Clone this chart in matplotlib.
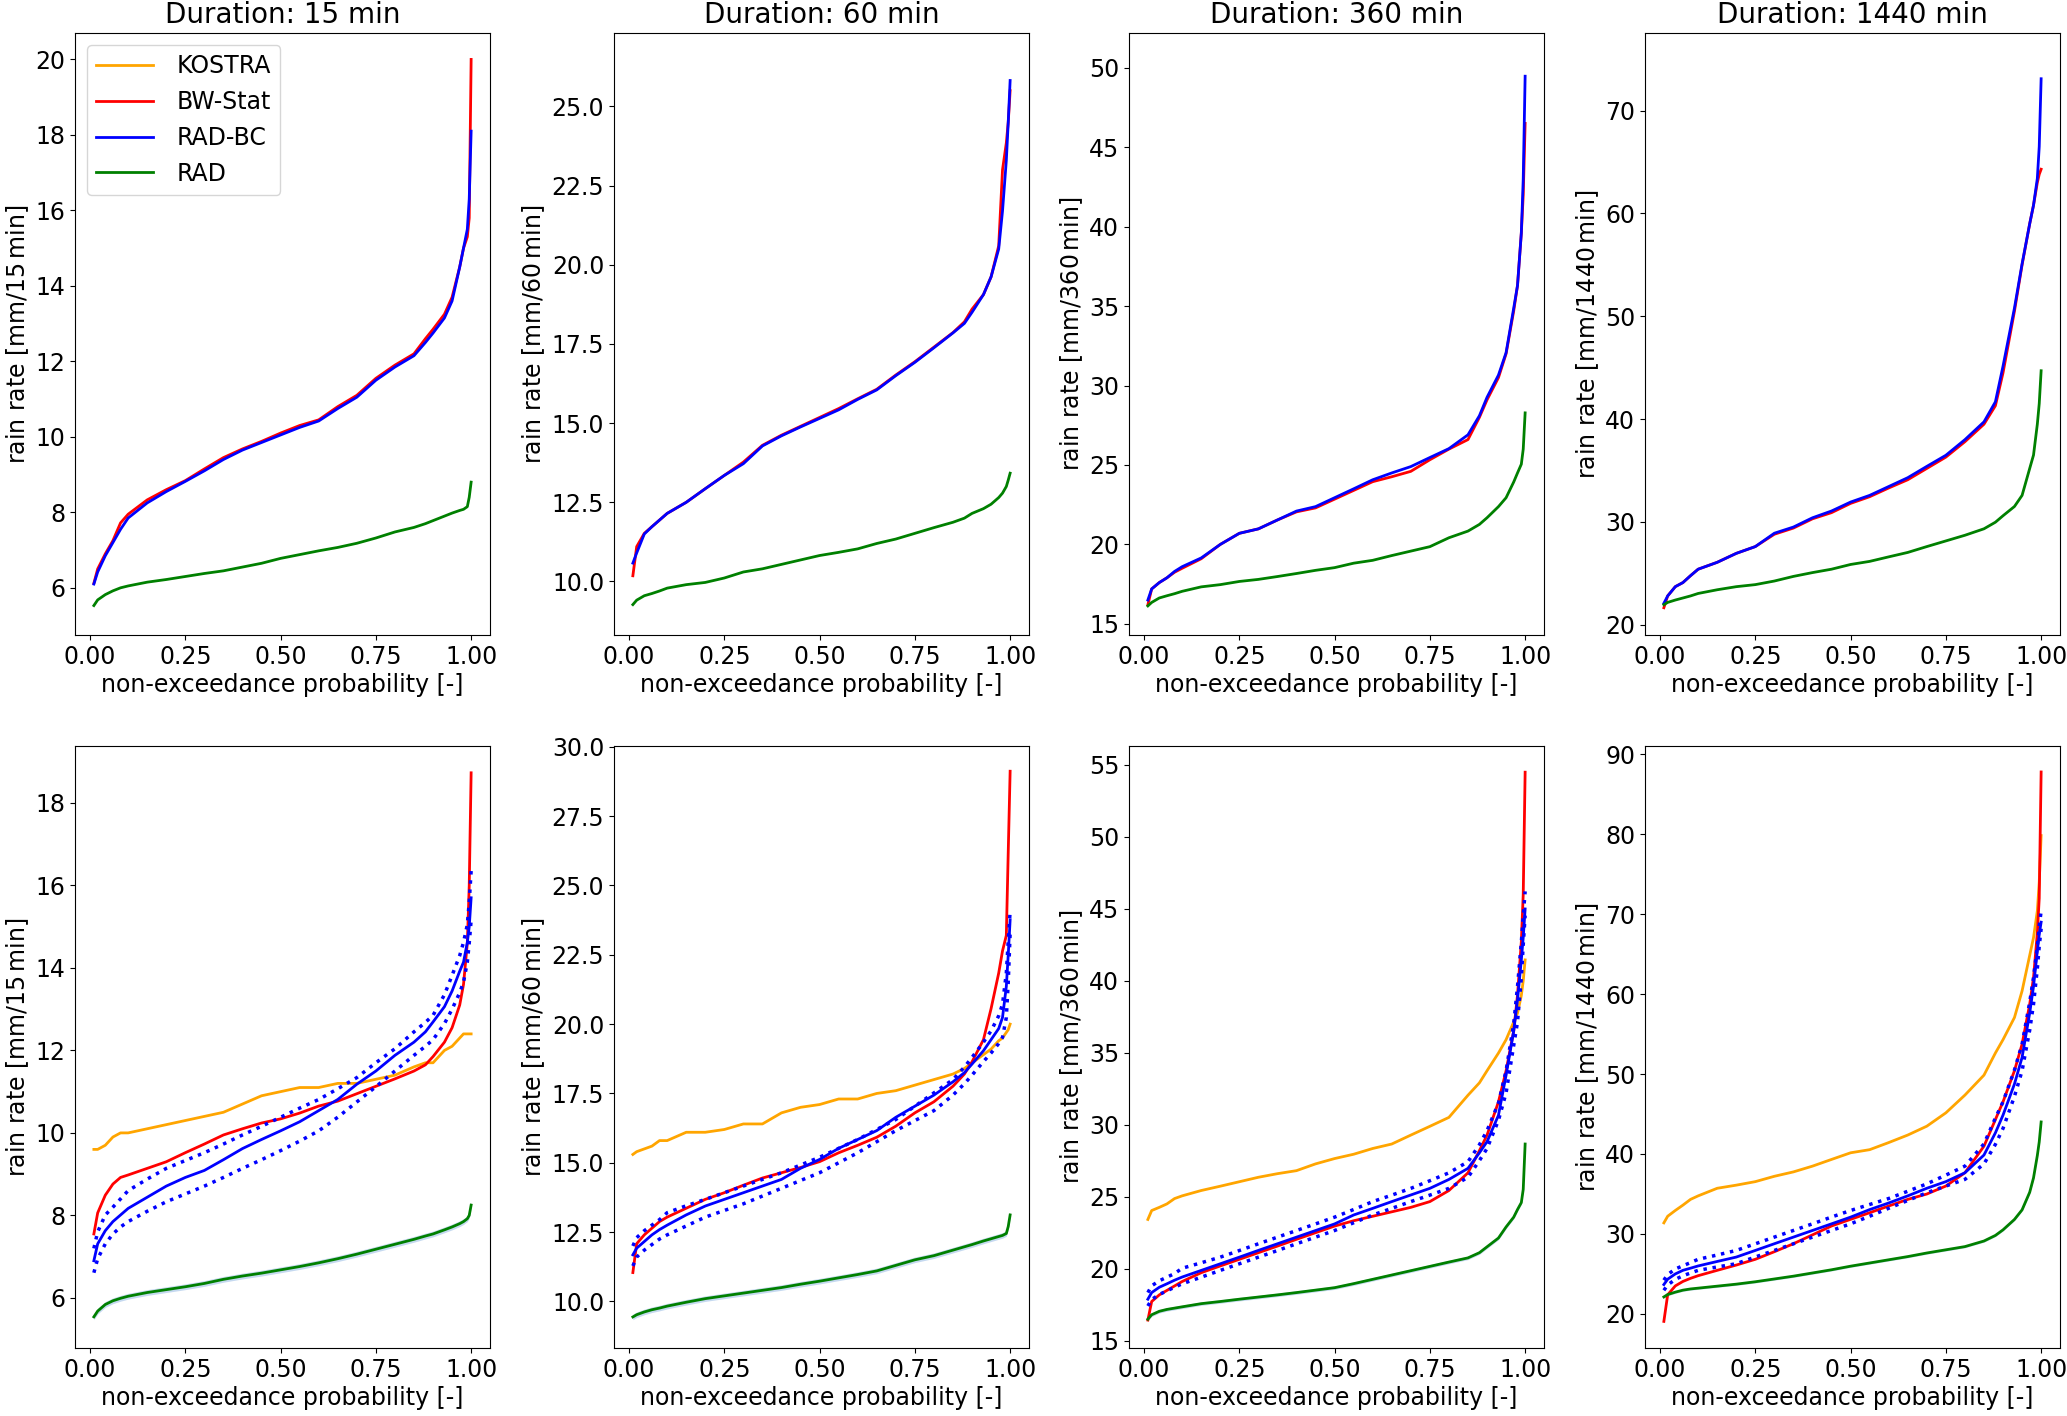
import numpy as np
import matplotlib.pyplot as plt

# non-exceedance probabilities shared by all curves
prob = [0.01, 0.02, 0.04, 0.06, 0.08, 0.1, 0.15, 0.2, 0.25, 0.3, 0.35, 0.4, 0.45, 0.5,
        0.55, 0.6, 0.65, 0.7, 0.75, 0.8, 0.85, 0.88, 0.9, 0.93, 0.95, 0.97, 0.98, 0.99,
        0.995, 1.0]

durations = [15, 60, 360, 1440]

# --- top row: BW-Stat, RAD-BC, RAD ---
bw_top_15 = [6.12, 6.5, 6.9, 7.25, 7.72, 7.95, 8.33, 8.6, 8.84, 9.15, 9.45, 9.68, 9.88, 10.1,
             10.3, 10.45, 10.8, 11.1, 11.55, 11.9, 12.2, 12.6, 12.85, 13.25, 13.7, 14.5, 15.0,
             15.3, 15.8, 20.0]
rb_top_15 = [6.1, 6.42, 6.85, 7.2, 7.55, 7.85, 8.25, 8.55, 8.82, 9.1, 9.4, 9.65, 9.85, 10.05,
             10.25, 10.42, 10.75, 11.05, 11.5, 11.85, 12.15, 12.5, 12.75, 13.15, 13.6, 14.5,
             15.0, 15.5, 16.3, 18.1]
rad_top_15 = [5.53, 5.68, 5.82, 5.92, 6.0, 6.05, 6.15, 6.22, 6.3, 6.38, 6.45, 6.55, 6.65, 6.78,
              6.88, 6.98, 7.07, 7.18, 7.32, 7.48, 7.6, 7.7, 7.78, 7.9, 7.98, 8.05, 8.08, 8.15,
              8.4, 8.8]

bw_top_60 = [10.18, 11.1, 11.52, 11.73, 11.94, 12.15, 12.5, 12.93, 13.35, 13.77, 14.3, 14.62,
             14.9, 15.18, 15.46, 15.77, 16.07, 16.52, 16.94, 17.4, 17.86, 18.2, 18.6, 19.06,
             19.62, 20.6, 23.0, 23.85, 24.5, 25.5]
rb_top_60 = [10.58, 10.9, 11.5, 11.73, 11.94, 12.15, 12.5, 12.93, 13.35, 13.72, 14.28, 14.6,
             14.88, 15.15, 15.42, 15.75, 16.05, 16.5, 16.92, 17.38, 17.85, 18.15, 18.5, 19.06,
             19.62, 20.5, 21.7, 23.3, 24.5, 25.82]
rad_top_60 = [9.27, 9.41, 9.55, 9.62, 9.7, 9.79, 9.9, 9.97, 10.11, 10.3, 10.4, 10.54, 10.68,
              10.82, 10.92, 11.03, 11.2, 11.34, 11.52, 11.7, 11.87, 12.0, 12.15, 12.3, 12.44,
              12.65, 12.79, 13.0, 13.2, 13.42]

bw_top_360 = [16.2, 17.2, 17.6, 17.9, 18.25, 18.5, 19.1, 20.0, 20.7, 20.98, 21.54, 22.05, 22.3,
              22.85, 23.4, 23.95, 24.26, 24.6, 25.33, 26.0, 26.6, 28.0, 29.1, 30.5, 32.0, 34.7,
              36.3, 39.6, 42.0, 46.5]
rb_top_360 = [16.5, 17.2, 17.6, 17.9, 18.3, 18.6, 19.15, 20.0, 20.7, 20.98, 21.54, 22.1, 22.38,
              22.94, 23.5, 24.07, 24.5, 24.9, 25.47, 26.03, 26.9, 28.1, 29.26, 30.66, 32.07,
              34.87, 36.3, 39.6, 43.0, 49.47]
rad_top_360 = [16.13, 16.35, 16.63, 16.77, 16.9, 17.05, 17.33, 17.47, 17.67, 17.8, 17.98, 18.17,
               18.37, 18.54, 18.82, 19.0, 19.3, 19.58, 19.86, 20.42, 20.84, 21.26, 21.68, 22.38,
               22.94, 23.93, 24.5, 25.05, 26.0, 28.28]

bw_top_1440 = [21.65, 22.8, 23.7, 24.1, 24.77, 25.4, 26.07, 26.94, 27.6, 28.8, 29.4, 30.3, 30.9,
               31.8, 32.45, 33.3, 34.1, 35.2, 36.3, 37.8, 39.5, 41.3, 44.5, 50.5, 55.0, 59.0,
               60.8, 63.0, 63.8, 64.3]
rb_top_1440 = [22.08, 22.8, 23.7, 24.1, 24.77, 25.4, 26.07, 26.94, 27.6, 28.9, 29.5, 30.4,
               31.06, 31.93, 32.58, 33.44, 34.3, 35.4, 36.48, 38.0, 39.73, 41.68, 45.15, 50.8,
               55.1, 59.0, 60.8, 63.4, 66.5, 73.1]
rad_top_1440 = [21.95, 22.17, 22.4, 22.6, 22.8, 23.04, 23.4, 23.7, 23.9, 24.25, 24.7, 25.07,
                25.4, 25.86, 26.16, 26.6, 27.03, 27.6, 28.15, 28.7, 29.33, 29.97, 30.6, 31.5,
                32.58, 35.2, 36.5, 39.5, 41.5, 44.7]

# --- bottom row: KOSTRA, BW-Stat, RAD-BC (with bounds), RAD ---
ko_bot_15 = [9.6, 9.6, 9.7, 9.9, 10.0, 10.0, 10.1, 10.2, 10.3, 10.4, 10.5, 10.7, 10.9, 11.0,
             11.1, 11.1, 11.2, 11.2, 11.3, 11.4, 11.6, 11.7, 11.7, 12.0, 12.1, 12.3, 12.4, 12.4,
             12.4, 12.4]
bw_bot_15 = [7.55, 8.06, 8.49, 8.76, 8.92, 8.98, 9.14, 9.3, 9.52, 9.73, 9.95, 10.1, 10.24,
             10.34, 10.48, 10.65, 10.77, 10.95, 11.13, 11.31, 11.5, 11.65, 11.85, 12.2, 12.55,
             13.1, 13.6, 14.6, 16.0, 18.73]
rb_bot_15 = [6.9, 7.31, 7.63, 7.85, 8.01, 8.17, 8.44, 8.71, 8.92, 9.09, 9.35, 9.62, 9.84, 10.05,
             10.27, 10.54, 10.81, 11.18, 11.5, 11.88, 12.2, 12.45, 12.69, 13.06, 13.44, 13.92,
             14.14, 14.62, 15.0, 15.7]
rb_hi_15 = [7.2, 7.6, 8.01, 8.2, 8.4, 8.6, 8.88, 9.14, 9.33, 9.52, 9.73, 9.95, 10.16, 10.38,
            10.6, 10.81, 11.07, 11.34, 11.7, 12.04, 12.45, 12.68, 12.85, 13.35, 13.82, 14.3,
            14.62, 15.05, 15.6, 16.35]
rb_lo_15 = [6.61, 6.95, 7.31, 7.55, 7.72, 7.85, 8.1, 8.33, 8.52, 8.71, 8.92, 9.14, 9.35, 9.57,
            9.8, 10.05, 10.38, 10.75, 11.12, 11.5, 11.88, 12.1, 12.26, 12.65, 13.0, 13.4, 13.66,
            14.14, 14.6, 15.16]
rad_bot_15 = [5.54, 5.68, 5.84, 5.93, 5.99, 6.04, 6.13, 6.2, 6.27, 6.35, 6.45, 6.53, 6.6, 6.68,
              6.76, 6.85, 6.95, 7.06, 7.18, 7.3, 7.42, 7.5, 7.55, 7.65, 7.72, 7.8, 7.85, 7.92,
              8.0, 8.25]

ko_bot_60 = [15.3, 15.4, 15.5, 15.6, 15.8, 15.8, 16.1, 16.1, 16.2, 16.4, 16.4, 16.8, 17.0, 17.1,
             17.3, 17.3, 17.5, 17.6, 17.8, 18.0, 18.2, 18.4, 18.6, 18.9, 19.1, 19.4, 19.5, 19.7,
             19.8, 20.0]
bw_bot_60 = [11.04, 12.08, 12.4, 12.64, 12.88, 13.04, 13.36, 13.68, 13.92, 14.19, 14.45, 14.64,
             14.83, 15.04, 15.36, 15.63, 15.92, 16.32, 16.8, 17.2, 17.76, 18.2, 18.64, 19.44,
             20.56, 21.84, 22.64, 23.2, 26.2, 29.12]
rb_bot_60 = [11.68, 11.92, 12.16, 12.4, 12.59, 12.75, 13.12, 13.44, 13.68, 13.92, 14.16, 14.4,
             14.8, 15.12, 15.52, 15.84, 16.16, 16.64, 17.04, 17.44, 17.92, 18.25, 18.56, 19.04,
             19.44, 19.84, 20.24, 21.36, 22.5, 23.76]
rb_hi_60 = [12.0, 12.3, 12.55, 12.75, 12.95, 13.2, 13.45, 13.68, 13.92, 14.16, 14.4, 14.64,
            14.92, 15.2, 15.52, 15.84, 16.2, 16.56, 17.04, 17.52, 18.0, 18.45, 18.8, 19.35,
            19.76, 20.3, 20.72, 21.84, 23.0, 24.08]
rb_lo_60 = [11.28, 11.6, 11.85, 12.05, 12.25, 12.4, 12.72, 13.04, 13.28, 13.52, 13.8, 14.08,
            14.36, 14.64, 15.0, 15.36, 15.76, 16.16, 16.52, 16.88, 17.44, 17.85, 18.16, 18.65,
            18.96, 19.3, 19.52, 20.24, 21.5, 23.28]
rad_bot_60 = [9.44, 9.52, 9.62, 9.7, 9.76, 9.83, 9.97, 10.1, 10.2, 10.3, 10.4, 10.5, 10.62,
              10.73, 10.85, 10.97, 11.1, 11.3, 11.5, 11.65, 11.85, 11.97, 12.05, 12.18, 12.26,
              12.34, 12.38, 12.45, 12.7, 13.12]

ko_bot_360 = [23.41, 24.03, 24.25, 24.49, 24.86, 25.05, 25.42, 25.72, 26.03, 26.34, 26.59, 26.8,
              27.27, 27.64, 27.94, 28.34, 28.65, 29.27, 29.88, 30.5, 32.04, 32.9, 33.74, 34.97,
              35.9, 37.13, 37.74, 38.97, 40.0, 41.44]
bw_bot_360 = [16.42, 17.71, 18.17, 18.48, 18.79, 19.1, 19.71, 20.18, 20.64, 21.1, 21.56, 22.03,
              22.49, 22.95, 23.32, 23.63, 23.94, 24.25, 24.65, 25.42, 26.65, 28.19, 29.27, 31.58,
              33.74, 36.5, 39.0, 42.7, 46.0, 54.48]
rb_bot_360 = [17.87, 18.33, 18.7, 18.94, 19.19, 19.41, 19.87, 20.33, 20.79, 21.26, 21.72, 22.18,
              22.64, 23.1, 23.72, 24.18, 24.65, 25.11, 25.57, 26.19, 26.96, 28.04, 28.81, 30.65,
              33.43, 36.5, 38.67, 41.44, 43.0, 44.98]
rb_hi_360 = [18.33, 18.8, 19.15, 19.4, 19.65, 20.02, 20.4, 20.79, 21.25, 21.72, 22.18, 22.64,
             23.1, 23.57, 24.1, 24.65, 25.1, 25.57, 26.1, 26.65, 27.42, 28.6, 29.58, 31.5, 33.74,
             37.0, 39.6, 42.67, 44.5, 46.2]
rb_lo_360 = [17.4, 17.85, 18.2, 18.45, 18.7, 18.94, 19.4, 19.87, 20.33, 20.79, 21.25, 21.72,
             22.18, 22.64, 23.18, 23.72, 24.18, 24.65, 25.1, 25.57, 26.34, 27.5, 28.34, 30.3,
             32.2, 35.5, 37.13, 40.2, 42.5, 44.52]
rad_bot_360 = [16.48, 16.79, 17.03, 17.16, 17.25, 17.34, 17.56, 17.71, 17.87, 18.02, 18.17,
               18.33, 18.5, 18.67, 18.95, 19.25, 19.55, 19.85, 20.15, 20.45, 20.74, 21.1, 21.51,
               22.12, 22.89, 23.57, 24.1, 24.58, 25.5, 28.65]

ko_bot_1440 = [31.37, 32.2, 32.92, 33.59, 34.31, 34.75, 35.7, 36.09, 36.53, 37.2, 37.75, 38.47,
               39.31, 40.14, 40.53, 41.42, 42.36, 43.47, 45.14, 47.36, 49.86, 52.63, 54.3, 57.07,
               60.4, 64.85, 67.07, 70.4, 74.0, 79.84]
bw_bot_1440 = [19.04, 22.37, 23.48, 24.04, 24.43, 24.76, 25.43, 26.09, 26.81, 27.76, 28.76,
               29.87, 30.98, 31.81, 32.64, 33.48, 34.31, 34.98, 35.98, 37.64, 40.97, 44.3, 46.52,
               50.41, 53.74, 58.74, 62.07, 67.62, 72.0, 87.8]
rb_bot_1440 = [23.65, 24.32, 24.98, 25.43, 25.7, 25.98, 26.54, 27.09, 27.92, 28.76, 29.59,
               30.42, 31.25, 32.09, 33.03, 33.86, 34.75, 35.7, 36.53, 37.64, 39.86, 42.64, 44.86,
               48.75, 52.08, 57.63, 60.96, 65.4, 67.5, 69.0]
rb_hi_1440 = [24.2, 24.9, 25.6, 26.0, 26.4, 26.81, 27.35, 27.92, 28.75, 29.59, 30.42, 31.25,
              32.1, 32.92, 33.67, 34.42, 35.33, 36.25, 37.35, 38.47, 41.25, 44.5, 46.52, 50.5,
              53.74, 59.0, 62.07, 65.96, 68.5, 70.4]
rb_lo_1440 = [22.93, 23.6, 24.3, 24.75, 25.1, 25.43, 25.85, 26.26, 27.1, 27.92, 28.75, 29.59,
              30.42, 31.25, 32.2, 33.2, 34.17, 35.14, 35.98, 36.81, 38.75, 41.2, 43.19, 47.2,
              50.41, 55.5, 58.74, 63.18, 66.0, 68.18]
rad_bot_1440 = [22.1, 22.4, 22.7, 22.95, 23.1, 23.2, 23.45, 23.7, 24.0, 24.35, 24.7, 25.1, 25.5,
                25.95, 26.35, 26.75, 27.15, 27.6, 28.0, 28.4, 29.1, 29.8, 30.5, 31.8, 33.0, 35.2,
                37.0, 39.8, 41.5, 44.0]

# half width of the light band around RAD in the bottom row
rad_band = [0.07, 0.1, 0.12, 0.15]

top_bw = [bw_top_15, bw_top_60, bw_top_360, bw_top_1440]
top_rb = [rb_top_15, rb_top_60, rb_top_360, rb_top_1440]
top_rad = [rad_top_15, rad_top_60, rad_top_360, rad_top_1440]
bot_ko = [ko_bot_15, ko_bot_60, ko_bot_360, ko_bot_1440]
bot_bw = [bw_bot_15, bw_bot_60, bw_bot_360, bw_bot_1440]
bot_rb = [rb_bot_15, rb_bot_60, rb_bot_360, rb_bot_1440]
bot_hi = [rb_hi_15, rb_hi_60, rb_hi_360, rb_hi_1440]
bot_lo = [rb_lo_15, rb_lo_60, rb_lo_360, rb_lo_1440]
bot_rad = [rad_bot_15, rad_bot_60, rad_bot_360, rad_bot_1440]

top_ylim = [(4.75, 20.7), (8.31, 27.32), (14.3, 52.19), (19.0, 77.55)]
bot_ylim = [(4.785, 19.38), (8.32, 30.03), (14.48, 56.3), (15.71, 91.05)]

W, H = 2067, 1416
lefts = [75, 614, 1129, 1645]
aw = 415
rows = [(33, 635), (746, 1348)]

plt.rcParams['font.size'] = 17
fig = plt.figure(figsize=(W / 100, H / 100), dpi=100)

lw = 2.0
for r, (ytop, ybot) in enumerate(rows):
    for c, d in enumerate(durations):
        ax = fig.add_axes([lefts[c] / W, 1 - ybot / H, aw / W, (ybot - ytop) / H])
        if r == 0:
            ax.plot([], [], color='orange', lw=lw, label='KOSTRA')
            ax.plot(prob, top_bw[c], color='red', lw=lw, label='BW-Stat')
            ax.plot(prob, top_rb[c], color='blue', lw=lw, label='RAD-BC')
            ax.plot(prob, top_rad[c], color='green', lw=lw, label='RAD')
            ax.set_ylim(*top_ylim[c])
            ax.set_title(f'Duration: {d} min', fontsize=20, pad=7)
            if c == 0:
                ax.legend(loc='upper left', handlelength=2.4, handletextpad=1.0,
                          borderaxespad=0.5, fontsize=17)
        else:
            rad = np.array(bot_rad[c])
            ax.fill_between(prob, rad - rad_band[c], rad + rad_band[c],
                            color='#9fc0e6', alpha=0.6, lw=0)
            ax.plot(prob, bot_ko[c], color='orange', lw=lw)
            ax.plot(prob, bot_bw[c], color='red', lw=lw)
            ax.plot(prob, bot_rb[c], color='blue', lw=lw)
            ax.plot(prob, bot_hi[c], color='blue', lw=2.5, ls=':')
            ax.plot(prob, bot_lo[c], color='blue', lw=2.5, ls=':')
            ax.plot(prob, rad, color='green', lw=lw)
            ax.set_ylim(*bot_ylim[c])
        ax.set_xlim(-0.0395, 1.0495)
        ax.set_xticks([0.0, 0.25, 0.5, 0.75, 1.0])
        ax.set_xlabel('non-exceedance probability [-]', fontsize=17, labelpad=3)
        ax.set_ylabel(f'rain rate [mm/{d}$\\,$min]', fontsize=17, labelpad=3)
        ax.tick_params(labelsize=17)

fig.savefig('out.png', dpi=100)
